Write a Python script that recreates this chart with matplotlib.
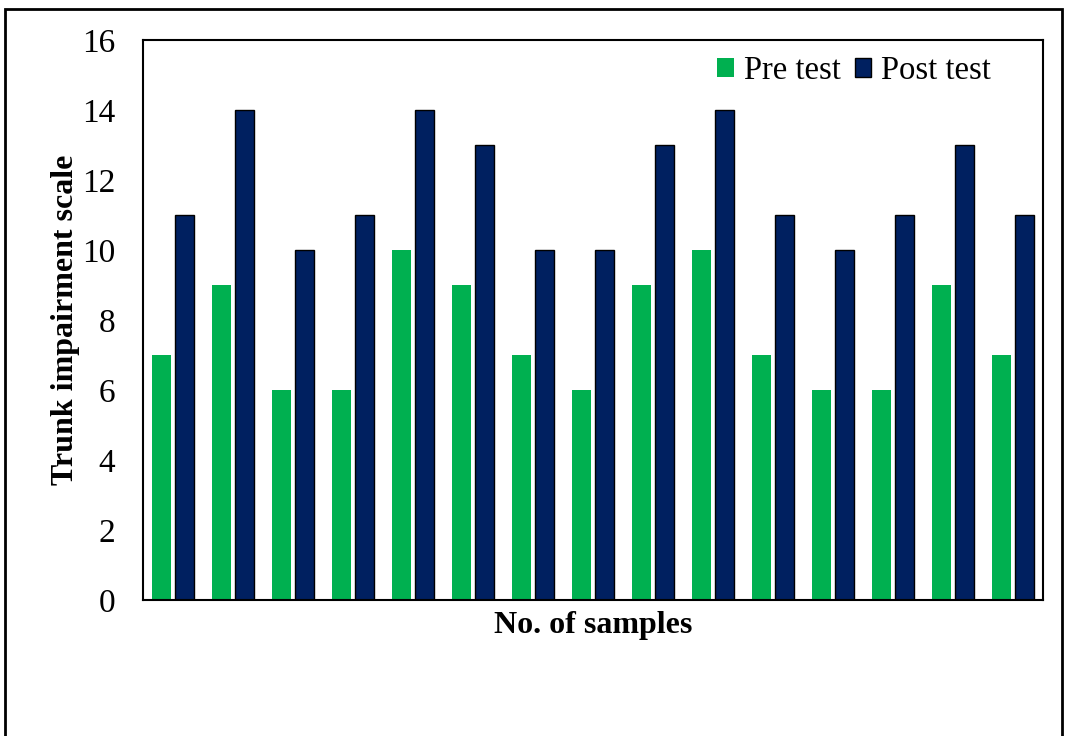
import numpy as np
import matplotlib.pyplot as plt
from matplotlib.patches import Rectangle

plt.rcParams['font.family'] = ['Liberation Serif', 'DejaVu Serif']

samples = list(range(1, 16))
pre_test = [7, 9, 6, 6, 10, 9, 7, 6, 9, 10, 7, 6, 6, 9, 7]
post_test = [11, 14, 10, 11, 14, 13, 10, 10, 13, 14, 11, 10, 11, 13, 11]

fig = plt.figure(figsize=(10.66, 7.36), dpi=100)
ax = fig.add_axes([0.1341, 0.1848, 0.8443, 0.7609])

x = np.arange(len(samples))
w = 0.32
ax.bar(x - 0.19, pre_test, w, color='#00B050', label='Pre test')
ax.bar(x + 0.19, post_test, w, color='#002060', edgecolor='black',
       linewidth=1, label='Post test')

ax.set_xlim(-0.5, len(samples) - 0.5)
ax.set_ylim(0, 16)
ax.set_yticks(range(0, 17, 2))
ax.set_xticks([])
ax.tick_params(axis='y', length=0, pad=20, labelsize=24)
for s in ax.spines.values():
    s.set_linewidth(1.5)

ax.set_xlabel('No. of samples', fontsize=23, fontweight='bold', labelpad=8)
ax.set_ylabel('Trunk impairment scale', fontsize=23, fontweight='bold',
              labelpad=1)

ax.legend(loc='upper right', frameon=False, fontsize=23.5, ncol=2,
          handlelength=0.5, handleheight=0.5, handletextpad=0.3,
          columnspacing=0.45, bbox_to_anchor=(0.975, 1.025))

fig.patches.append(Rectangle((0.005, -0.01), 0.991, 0.998, transform=fig.transFigure,
                             fill=False, edgecolor='black', linewidth=2))

fig.savefig('out.png', dpi=100)
